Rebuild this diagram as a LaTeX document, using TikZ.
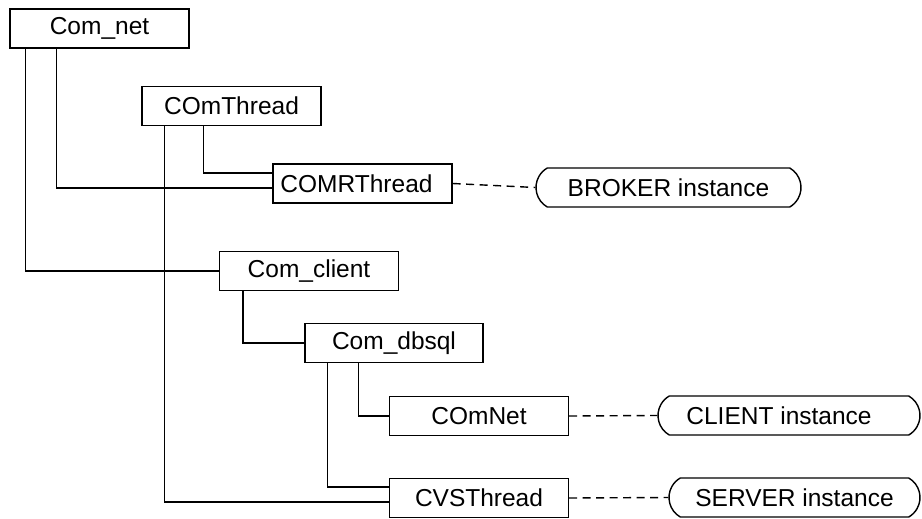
\documentclass[tikz,border=0pt]{standalone}
\usepackage{fontspec}
\setmainfont{Liberation Sans}
\usetikzlibrary{shapes.misc}
\tikzset{
  cls/.style={draw, line width=1.4pt, rectangle, minimum width=179pt, minimum height=39pt, inner sep=0pt, font=\fontsize{24.5}{28}\selectfont},
  inst/.style={draw, line width=1.4pt, rounded rectangle, rounded rectangle arc length=120, minimum height=39pt, inner sep=0pt, font=\fontsize{24.5}{28}\selectfont},
  tree/.style={line width=1.4pt},
  link/.style={line width=1.4pt, dash pattern=on 8pt off 5.5pt}
}
\begin{document}
\begin{tikzpicture}[x=1pt,y=-1pt]
\useasboundingbox (0,0) rectangle (922,519);
\node[cls] (comnet) at (99.5,28.5) {Com\_net};
\node[cls] (comthread) at (231.5,106) {COmThread};
\node[cls] (comr) at (362.5,183.5) {\hspace*{-12pt}COMRThread};
\node[inst, minimum width=265pt] (broker) at (668.5,187.5) {BROKER instance};
\node[cls] (client) at (309,271) {Com\_client};
\node[cls, minimum width=178pt] (dbsql) at (394,343) {Com\_dbsql};
\node[cls] (comnetb) at (479,416) {COmNet};
\node[inst, minimum width=262pt] (clientinst) at (789,415.5) {\hspace*{-20pt}CLIENT instance};
\node[cls] (cvs) at (479,498) {CVSThread};
\node[inst, minimum width=251pt] (server) at (794.5,497.5) {SERVER instance};

\draw[tree] ([xshift=16pt]comnet.south west) |- (client.west);
\draw[tree] ([xshift=47pt]comnet.south west) |- ([yshift=-4.5pt]comr.west);
\draw[tree] ([xshift=62pt]comthread.south west) |- ([yshift=10.5pt]comr.west);
\draw[tree] ([xshift=23pt]comthread.south west) |- ([yshift=-4pt]cvs.west);
\draw[tree] ([xshift=24pt]client.south west) |- (dbsql.west);
\draw[tree] ([xshift=23pt]dbsql.south west) |- ([yshift=11pt]cvs.west);
\draw[tree] ([xshift=54pt]dbsql.south west) |- (comnetb.west);

\draw[link] (comr.east) -- (broker.west);
\draw[link] (comnetb.east) -- (clientinst.west);
\draw[link] (cvs.east) -- (server.west);
\end{tikzpicture}
\end{document}
